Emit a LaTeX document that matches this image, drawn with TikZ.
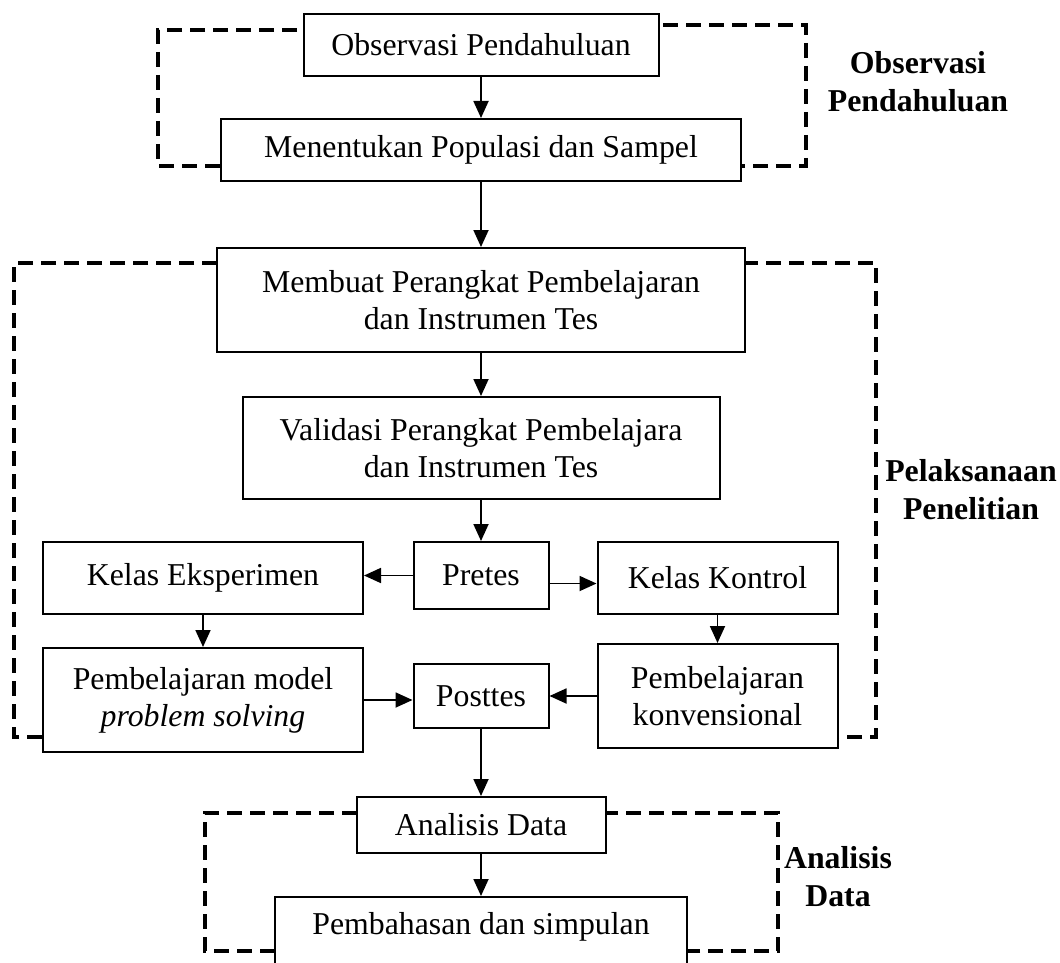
\documentclass[tikz,border=0pt]{standalone}
\usepackage{fontspec}
\setmainfont{Liberation Serif}
\usetikzlibrary{arrows.meta}

\begin{document}
\begin{tikzpicture}[x=0.5pt,y=-0.5pt,>={Triangle[length=8.5pt,width=7.5pt]},
    kotak/.style={draw,line width=1pt,fill=white,inner sep=0pt,align=center,font=\fontsize{15.9}{18.5}\selectfont},
    garis/.style={line width=1.6pt,dash pattern=on 7.5pt off 4pt},
    judul/.style={align=center,font=\fontsize{15.9}{19}\selectfont\bfseries},
    panah/.style={->,line width=0.9pt}]
    \useasboundingbox (0,0) rectangle (1060,963);
    \clip (0,0) rectangle (1060,963);
    \draw[garis] (320,30)--(158,30)--(158,166)--(240,166);
    \draw[garis] (640,25)--(806,25)--(806,166)--(720,166);
    \draw[garis] (240,263)--(14,263)--(14,737)--(60,737);
    \draw[garis] (720,263)--(876,263)--(876,737)--(820,737);
    \draw[garis] (380,813)--(205,813)--(205,951)--(300,951);
    \draw[garis] (580,813)--(778,813)--(778,951)--(660,951);
    \node[kotak,minimum width=177.5pt,minimum height=31pt] (obs) at (481,45) {Observasi Pendahuluan};
    \node[kotak,minimum width=260pt,minimum height=31pt] (pop) at (481,150) {Menentukan Populasi dan Sampel};
    \node[kotak,minimum width=264pt,minimum height=52pt] (buat) at (481,300) {Membuat Perangkat Pembelajaran\\dan Instrumen Tes};
    \node[kotak,minimum width=238.5pt,minimum height=51pt] (valid) at (481,448) {Validasi Perangkat Pembelajara\\dan Instrumen Tes};
    \node[kotak,minimum width=67.5pt,minimum height=33.5pt] (pretes) at (481,575.5) {Pretes};
    \node[kotak,minimum width=160pt,minimum height=36pt] (eksp) at (203,578) {Kelas Eksperimen};
    \node[kotak,minimum width=120pt,minimum height=36pt] (kontrol) at (717.5,578) {Kelas Kontrol};
    \node[kotak,minimum width=160pt,minimum height=52pt] (pemb) at (203,700) {Pembelajaran model\\\textit{problem solving}};
    \node[kotak,minimum width=67.5pt,minimum height=32pt] (posttes) at (481,696) {Posttes};
    \node[kotak,minimum width=120pt,minimum height=52pt] (konv) at (717.5,696) {Pembelajaran\\konvensional};
    \node[kotak,minimum width=124.5pt,minimum height=28pt] (analisis) at (481,825) {Analisis Data};
    \node[kotak,minimum width=206pt,anchor=north,inner ysep=7.5pt,text depth=40pt] (bahas) at (481,896) {Pembahasan dan simpulan};
    \draw[panah] (obs)--(pop);
    \draw[panah] (pop)--(buat);
    \draw[panah] (buat)--(valid);
    \draw[panah] (valid)--(pretes);
    \draw[panah] (pretes.west)--(pretes.west -| eksp.east);
    \draw[panah] ([yshift=-4pt]pretes.east)--([yshift=-4pt]pretes.east -| kontrol.west);
    \draw[panah] (eksp)--(pemb);
    \draw[panah] (kontrol)--(konv);
    \draw[panah] (pemb.east)--(pemb.east -| posttes.west);
    \draw[panah] (konv.west)--(konv.west -| posttes.east);
    \draw[panah] (posttes)--(analisis);
    \draw[panah] (analisis)--(bahas);
    \node[judul] (lblobs) at (918,82) {Observasi\\Pendahuluan};
    \node[judul] (lblpel) at (971,490) {Pelaksanaan\\Penelitian};
    \node[judul] (lblana) at (838,877) {Analisis\\Data};
\end{tikzpicture}
\end{document}
